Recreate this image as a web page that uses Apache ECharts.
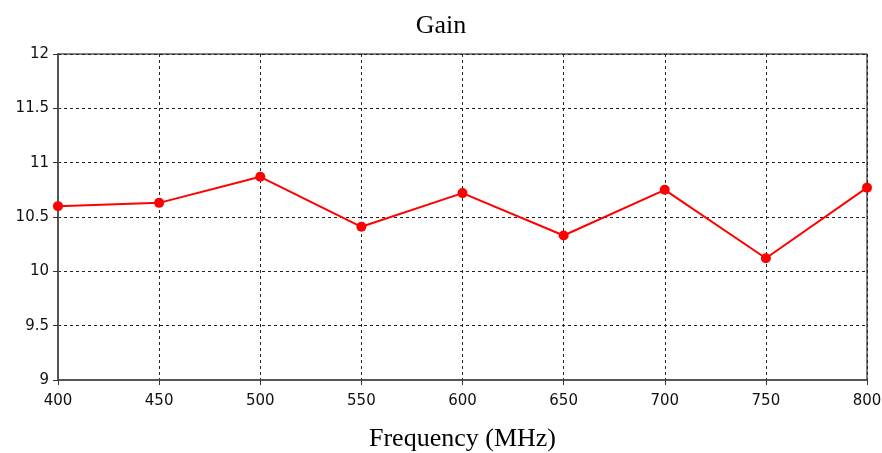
<!DOCTYPE html>
<html>
<head>
<meta charset="utf-8">
<script src="https://cdn.jsdelivr.net/npm/echarts@6/dist/echarts.min.js"></script>
<style>
  html, body { margin: 0; padding: 0; background: #fff; }
  #chart { width: 882px; height: 453px; }
</style>
</head>
<body>
<div id="chart"></div>
<script>
var frequencies = [400, 450, 500, 550, 600, 650, 700, 750, 800];
var gains = [10.60, 10.63, 10.87, 10.41, 10.72, 10.33, 10.75, 10.12, 10.77];

(function () {
    var myChart = echarts.init(document.getElementById('chart'));
    var labelFont = 'DejaVu Sans';
    var option = {
        animation: false,
        title: {
            text: 'Gain',
            left: 'center',
            top: 8,
            textStyle: { fontFamily: 'Liberation Serif', fontSize: 26, fontWeight: 'normal', color: '#000' }
        },
        grid: {
            left: 58, right: 15, top: 54, bottom: 73,
            outerBoundsMode: 'none',
            show: true, borderColor: '#000', borderWidth: 1
        },
        xAxis: {
            type: 'value',
            min: 400, max: 800, interval: 50,
            name: 'Frequency (MHz)',
            nameLocation: 'middle',
            nameGap: 46,
            nameTextStyle: { fontFamily: 'Liberation Serif', fontSize: 26, color: '#000' },
            axisLine: { show: true, lineStyle: { color: '#555', width: 2 } },
            axisTick: { show: true, length: 5, lineStyle: { color: '#333' } },
            axisLabel: { fontFamily: labelFont, fontSize: 15, color: '#111', margin: 14 },
            splitLine: { show: true, lineStyle: { color: '#222', type: [3, 3] } }
        },
        yAxis: {
            type: 'value',
            min: 9, max: 12, interval: 0.5,
            axisLine: { show: true, lineStyle: { color: '#555', width: 2 } },
            axisTick: { show: true, length: 5, lineStyle: { color: '#333' } },
            axisLabel: { fontFamily: labelFont, fontSize: 15, color: '#111', margin: 9 },
            splitLine: { show: true, lineStyle: { color: '#222', type: [3, 3] } }
        },
        series: [{
            type: 'line',
            data: frequencies.map(function (f, i) { return [f, gains[i]]; }),
            symbol: 'circle',
            symbolSize: 10,
            itemStyle: { color: '#ff0000' },
            lineStyle: { color: '#ff0000', width: 2 }
        }]
    };
    myChart.setOption(option);
})();
</script>
</body>
</html>
